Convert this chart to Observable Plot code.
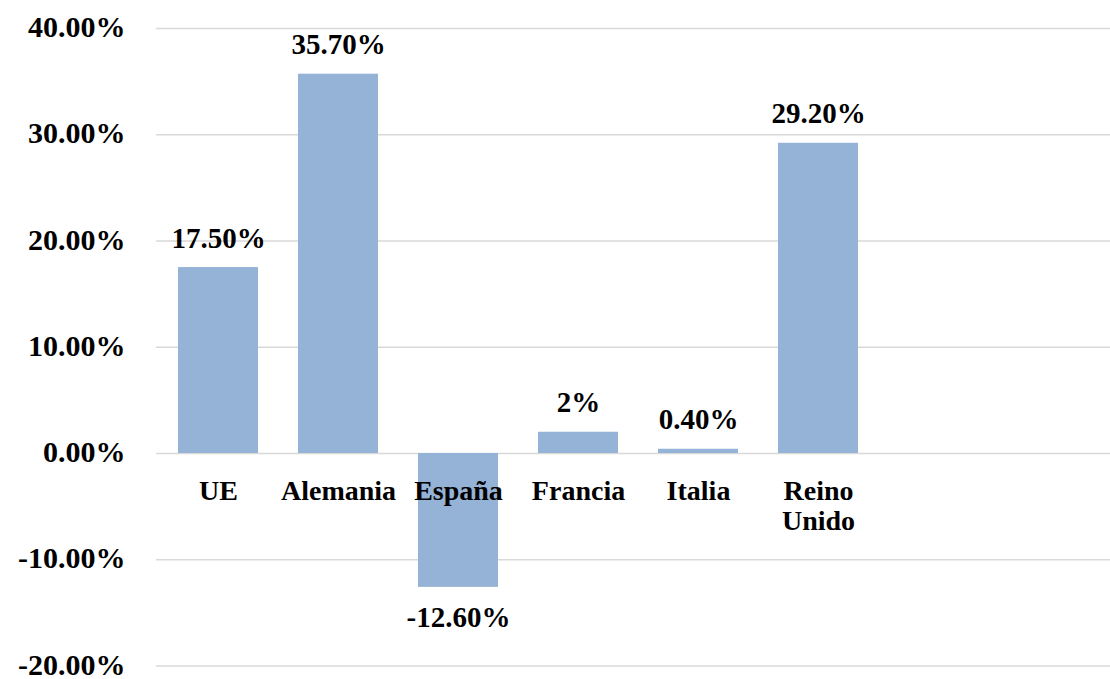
<!DOCTYPE html>
<html>
<head>
<meta charset="utf-8">
<script src="https://cdn.jsdelivr.net/npm/d3@7"></script>
<script src="https://cdn.jsdelivr.net/npm/@observablehq/plot@0.6"></script>
<style>
  html, body { margin: 0; padding: 0; background: #fff; }
</style>
</head>
<body>
<div id="chart"></div>
<script>
const categories = ["UE", "Alemania", "España", "Francia", "Italia", "Reino Unido"];
const axisLabels = ["UE", "Alemania", "España", "Francia", "Italia", "Reino\nUnido"];
const values = [17.5, 35.7, -12.6, 2, 0.4, 29.2];
const valueLabels = ["17.50%", "35.70%", "-12.60%", "2%", "0.40%", "29.20%"];
const yTicks = [-20, -10, 0, 10, 20, 30, 40];

const data = categories.map((c, i) => ({
  cat: c, axisLabel: axisLabels[i], value: values[i], label: valueLabels[i]
}));

const font = "'Liberation Serif', 'Times New Roman', serif";

const chart = Plot.plot({
  width: 1110,
  height: 679,
  marginLeft: 156,
  marginRight: 0,
  marginTop: 28,
  marginBottom: 13.5,
  style: { fontFamily: font, fontSize: "29px", fontWeight: "bold", color: "#000", background: "#fff" },
  x: { domain: categories, range: [156, 879], paddingInner: 0.335, paddingOuter: 0.1675, align: 0.5, axis: null },
  y: { domain: [-20, 40], axis: null },
  marks: [
    Plot.ruleY(yTicks, { stroke: "#d9d9d9", strokeWidth: 1.5 }),
    Plot.axisY(yTicks, {
      label: null, tickSize: 0, tickPadding: 31, tickFormat: d => d.toFixed(2) + "%",
      fontSize: 30, fontWeight: "bold", fill: "#000", dy: -1
    }),
    Plot.barY(data, { x: "cat", y: "value", fill: "#95b3d7" }),
    Plot.text(data, {
      x: "cat", y: 0, text: "axisLabel", lineAnchor: "top", dy: 26,
      fontSize: 28, fontWeight: "bold", fill: "#000", lineHeight: 1.05
    }),
    Plot.text(data.filter(d => d.value >= 0), {
      x: "cat", y: "value", text: "label", lineAnchor: "bottom", dy: -20,
      fontSize: 29, fontWeight: "bold", fill: "#000"
    }),
    Plot.text(data.filter(d => d.value < 0), {
      x: "cat", y: "value", text: "label", lineAnchor: "top", dy: 19,
      fontSize: 29, fontWeight: "bold", fill: "#000"
    })
  ]
});
document.getElementById("chart").appendChild(chart);
</script>
</body>
</html>
